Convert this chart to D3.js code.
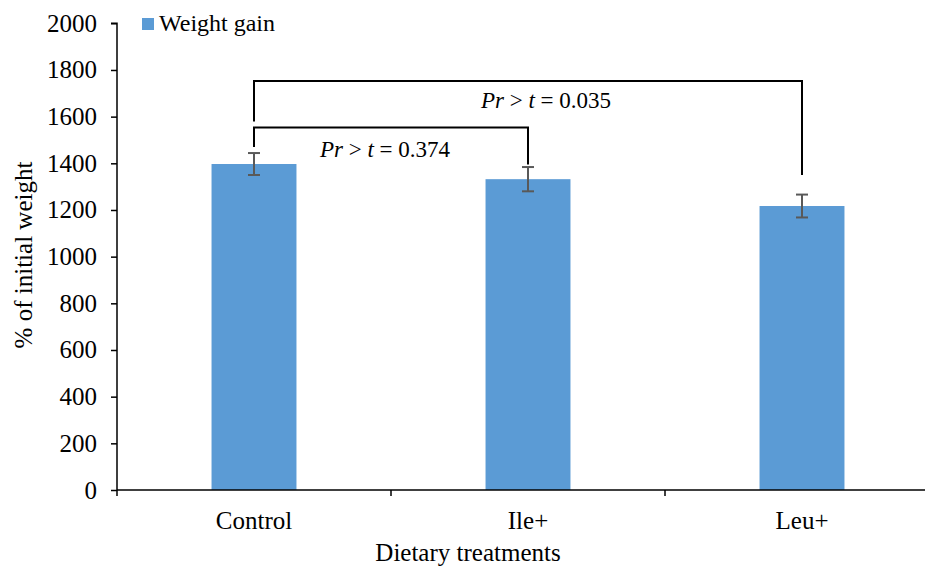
<!DOCTYPE html>
<html>
<head>
<meta charset="utf-8">
<script src="https://cdn.jsdelivr.net/npm/d3@7"></script>
<style>
    body { margin: 0; background: #fff; }
</style>
</head>
<body>
<div class="wrapper"></div>
<script>
const categories = ["Control", "Ile+", "Leu+"];
const gain = [1397, 1332, 1217];
const gainErr = [47, 52, 49];
const yTicks = [0, 200, 400, 600, 800, 1000, 1200, 1400, 1600, 1800, 2000];

// comparisons: bracket level and where each leg stops (in % units)
const comparisons = [
    {a: "Control", b: "Ile+", level: 1553, legA: 1470, legB: 1395, p: "0.374"},
    {a: "Control", b: "Leu+", level: 1753, legA: 1579, legB: 1350, p: "0.035"}
];

const width = 925, height = 566;
const FONT = "'Liberation Serif'";

const svg = d3.select(".wrapper").append("svg")
    .attr("width", width)
    .attr("height", height)
    .style("font-family", FONT);

const x = d3.scaleBand().domain(categories).range([117, 939]);
const y = d3.scaleLinear().domain([0, 2000]).range([490, 23.3]);
const barW = x.bandwidth() * 0.31;
const cx = d => x(d) + x.bandwidth() / 2;

// bars
svg.selectAll("rect.bar")
    .data(categories)
    .enter().append("rect")
    .attr("class", "bar")
    .attr("x", d => cx(d) - barW / 2)
    .attr("width", barW)
    .attr("y", (d, i) => y(gain[i]))
    .attr("height", (d, i) => y(0) - y(gain[i]))
    .style("fill", "#5b9bd5");

// error bars
const err = svg.selectAll("g.err")
    .data(categories)
    .enter().append("g")
    .attr("class", "err")
    .attr("stroke", "#595959")
    .attr("stroke-width", 2);

err.append("line")
    .attr("x1", d => cx(d)).attr("x2", d => cx(d))
    .attr("y1", (d, i) => y(gain[i] + gainErr[i]))
    .attr("y2", (d, i) => y(gain[i] - gainErr[i]));
err.append("line")
    .attr("x1", d => cx(d) - 6).attr("x2", d => cx(d) + 6)
    .attr("y1", (d, i) => y(gain[i] + gainErr[i]))
    .attr("y2", (d, i) => y(gain[i] + gainErr[i]));
err.append("line")
    .attr("x1", d => cx(d) - 6).attr("x2", d => cx(d) + 6)
    .attr("y1", (d, i) => y(gain[i] - gainErr[i]))
    .attr("y2", (d, i) => y(gain[i] - gainErr[i]));

// y axis
const yAxis = svg.append("g")
    .attr("transform", "translate(117,0)")
    .call(d3.axisLeft(y).tickValues(yTicks).tickSize(6).tickPadding(14).tickFormat(d3.format("d")));
yAxis.select(".domain").attr("stroke", "#000").attr("stroke-width", 1.5).attr("d", "M-6," + y(2000) + "H0V" + y(0));
yAxis.selectAll(".tick line").attr("stroke", "#000").attr("stroke-width", 1.5);
yAxis.selectAll(".tick text")
    .style("font-family", FONT)
    .style("font-size", "25px")
    .style("fill", "#000");

// x axis
const xAxis = svg.append("g")
    .attr("transform", "translate(0," + y(0) + ")");
xAxis.append("line")
    .attr("x1", 117).attr("x2", width)
    .attr("stroke", "#000").attr("stroke-width", 1.5);
xAxis.selectAll("line.tick")
    .data(categories.concat(["end"]))
    .enter().append("line")
    .attr("class", "tick")
    .attr("x1", (d, i) => x.range()[0] + i * x.step())
    .attr("x2", (d, i) => x.range()[0] + i * x.step())
    .attr("y1", 0).attr("y2", 6)
    .attr("stroke", "#000").attr("stroke-width", 1.5);
xAxis.selectAll("text")
    .data(categories)
    .enter().append("text")
    .attr("x", d => cx(d))
    .attr("y", 39)
    .attr("text-anchor", "middle")
    .style("font-family", FONT)
    .style("font-size", "25px")
    .text(d => d);

// axis titles
svg.append("text")
    .attr("x", 468).attr("y", 561)
    .attr("text-anchor", "middle")
    .style("font-family", FONT)
    .style("font-size", "25px")
    .text("Dietary treatments");

svg.append("text")
    .attr("transform", "translate(32,255) rotate(-90)")
    .attr("text-anchor", "middle")
    .style("font-family", FONT)
    .style("font-size", "25px")
    .text("% of initial weight");

// significance brackets
comparisons.forEach(c => {
    const xa = cx(c.a), xb = cx(c.b);
    svg.append("path")
        .attr("d", "M" + xa + "," + y(c.legA) + "V" + y(c.level) + "H" + xb + "V" + y(c.legB))
        .attr("fill", "none")
        .attr("stroke", "#000")
        .attr("stroke-width", 2);
    const t = svg.append("text")
        .attr("x", (xa + xb) / 2 + (c.b === "Leu+" ? 18 : -6))
        .attr("y", y(c.level) + (c.b === "Leu+" ? 27 : 29))
        .attr("text-anchor", "middle")
        .style("font-family", FONT)
        .style("font-size", "23px");
    t.append("tspan").style("font-style", "italic").text("Pr");
    t.append("tspan").text(" > ");
    t.append("tspan").style("font-style", "italic").text("t");
    t.append("tspan").text(" = " + c.p);
});

// legend
svg.append("rect")
    .attr("x", 142).attr("y", 18)
    .attr("width", 12).attr("height", 12)
    .style("fill", "#5b9bd5");
svg.append("text")
    .attr("x", 159).attr("y", 31)
    .style("font-family", FONT)
    .style("font-size", "24px")
    .text("Weight gain");
</script>
</body>
</html>
